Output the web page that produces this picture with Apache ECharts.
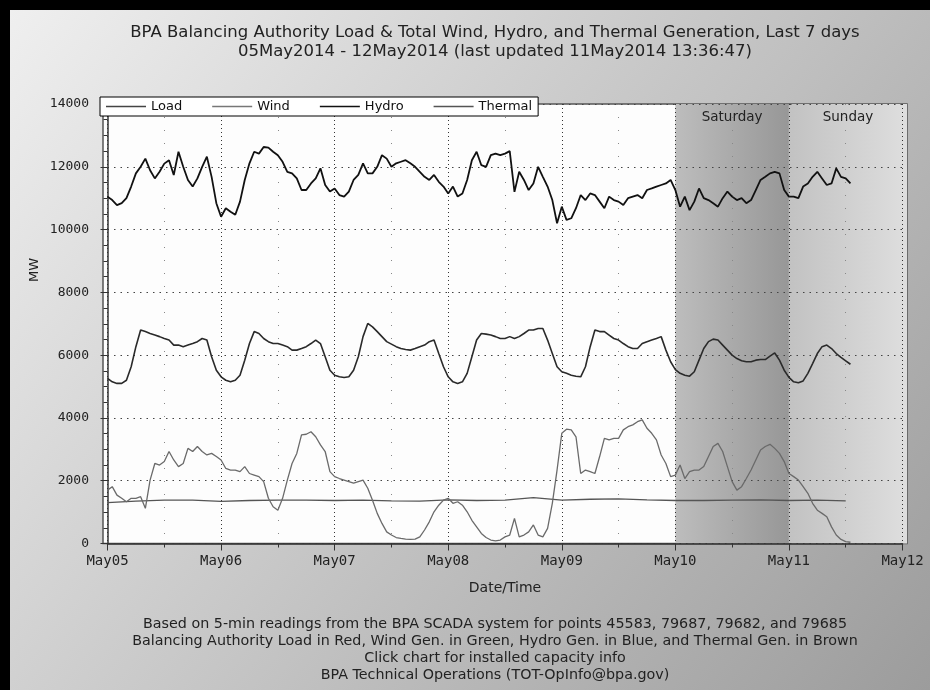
<!DOCTYPE html>
<html>
<head>
<meta charset="utf-8">
<title>BPA Balancing Authority Load & Total Wind, Hydro, and Thermal Generation</title>
<script src="https://cdn.jsdelivr.net/npm/echarts@6/dist/echarts.min.js"></script>
<style>
  html, body { margin: 0; padding: 0; }
  #wrap {
    position: relative;
    width: 930px;
    height: 690px;
    background: linear-gradient(128deg, #f0f0f0 0%, #9c9c9c 100%);
    overflow: hidden;
  }
  #chart { position: absolute; left: 0; top: 0; width: 930px; height: 690px; }
  .edge-top { position: absolute; left: 0; top: 0; width: 930px; height: 10px; background: #000; }
  .edge-left { position: absolute; left: 0; top: 0; width: 10px; height: 690px; background: #000; }
</style>
</head>
<body>
<div id="wrap">
  <div id="chart"></div>
  <div class="edge-top"></div>
  <div class="edge-left"></div>
</div>
<script>
// x axis: hours since 05May2014 00:00, one reading per hour
const dayLabels = ['May05', 'May06', 'May07', 'May08', 'May09', 'May10', 'May11', 'May12']
const seriesStep = 1
const thermalStep = 6

const loadMW = [
  5260, 5150, 5100, 5100, 5200, 5630, 6270, 6800, 6750, 6690, 6640, 6590, 6530, 6480, 6320, 6320, 6270, 6320, 6370, 6430, 6530, 6480, 5950, 5520,
  5310, 5200, 5150, 5200, 5360, 5840, 6370, 6750, 6690, 6530, 6430, 6370, 6370, 6320, 6270, 6160, 6160, 6210, 6270, 6370, 6480, 6370, 5950, 5520,
  5360, 5310, 5290, 5310, 5520, 5950, 6590, 7010, 6900, 6750, 6590, 6430, 6350, 6270, 6210, 6180, 6160, 6210, 6270, 6320, 6430, 6480, 6050, 5630,
  5310, 5150, 5100, 5150, 5420, 5950, 6480, 6690, 6670, 6640, 6590, 6530, 6530, 6590, 6530, 6590, 6690, 6800, 6800, 6850, 6850, 6480, 6050, 5630,
  5470, 5420, 5360, 5330, 5310, 5630, 6270, 6800, 6750, 6750, 6640, 6530, 6480, 6370, 6270, 6210, 6210, 6370, 6430, 6480, 6530, 6590, 6160, 5790,
  5540, 5420, 5360, 5330, 5470, 5840, 6210, 6430, 6510, 6480, 6320, 6160, 6000, 5890, 5820, 5790, 5790, 5840, 5860, 5860, 5970, 6070, 5840, 5520,
  5290, 5150, 5120, 5180, 5420, 5730, 6050, 6270, 6320, 6210, 6050, 5930, 5820, 5710
]

const windMW = [
  1700, 1810, 1540, 1440, 1330, 1440, 1440, 1490, 1120, 2020, 2550, 2500, 2610, 2930, 2660, 2450, 2550, 3030, 2930, 3090, 2930, 2820, 2870, 2770,
  2660, 2390, 2340, 2340, 2290, 2450, 2230, 2180, 2130, 1970, 1440, 1170, 1060, 1440, 2020, 2550, 2870, 3460, 3480, 3560, 3400, 3140, 2930, 2290,
  2130, 2070, 2020, 1970, 1920, 1970, 2020, 1760, 1380, 960, 640, 370, 270, 190, 160, 140, 130, 140, 210, 430, 690, 1010, 1220, 1380,
  1440, 1280, 1330, 1220, 1010, 740, 530, 320, 190, 110, 85, 110, 210, 270, 800, 210, 270, 370, 590, 270, 210, 480, 1280, 2340,
  3510, 3640, 3620, 3400, 2230, 2340, 2290, 2230, 2770, 3350, 3300, 3350, 3350, 3620, 3720, 3780, 3880, 3940, 3670, 3510, 3300, 2820, 2550, 2130,
  2180, 2500, 2070, 2290, 2340, 2340, 2450, 2770, 3090, 3190, 2930, 2450, 1970, 1700, 1810, 2070, 2340, 2660, 2980, 3090, 3160, 3030, 2870, 2610,
  2230, 2130, 2020, 1810, 1600, 1280, 1060, 960, 850, 530, 270, 130, 60, 40
]

const hydroMW = [
  11050, 10940, 10780, 10840, 11000, 11370, 11790, 12000, 12260, 11890, 11630, 11840, 12100, 12210, 11740, 12480, 12000, 11580, 11370, 11630, 12000, 12320, 11680, 10840,
  10410, 10680, 10570, 10470, 10890, 11580, 12110, 12480, 12420, 12630, 12610, 12480, 12370, 12160, 11840, 11790, 11630, 11260, 11260, 11470, 11630, 11950, 11420, 11210,
  11310, 11100, 11050, 11210, 11580, 11740, 12110, 11790, 11790, 12000, 12370, 12260, 12000, 12110, 12160, 12210, 12110, 12000, 11840, 11680, 11580, 11740, 11520, 11370,
  11150, 11370, 11050, 11150, 11580, 12210, 12480, 12050, 12000, 12370, 12420, 12370, 12420, 12500, 11200, 11840, 11580, 11260, 11470, 12000, 11680, 11370, 10940, 10200,
  10730, 10310, 10360, 10680, 11100, 10940, 11150, 11100, 10890, 10680, 11050, 10940, 10890, 10780, 11000, 11050, 11100, 11000, 11260, 11310, 11370, 11420, 11470, 11580,
  11260, 10730, 11050, 10620, 10890, 11310, 11000, 10940, 10840, 10730, 11000, 11210, 11050, 10940, 11000, 10840, 10940, 11260, 11580, 11680, 11790, 11840, 11790, 11260,
  11050, 11050, 11000, 11370, 11470, 11680, 11840, 11630, 11420, 11470, 11950, 11680, 11630, 11470
]

// thermal every 6 hours
const thermalMW = [
  1300, 1350, 1380, 1380, 1340, 1370, 1380, 1380, 1370, 1380, 1360, 1350, 1390, 1370,
  1380, 1460, 1380, 1410, 1420, 1390, 1370, 1370, 1380, 1390, 1370, 1380, 1360
]

// weekend shading, start hour of each day
const weekendNames = ['Saturday', 'Sunday']
const weekendStart = [120, 144]
const axisEnd = 168

const FONT = 'DejaVu Sans'
const MONO = 'DejaVu Sans Mono'

// 4.5px padding either side of the day range inside the plot frame
const padHours = 0.951

const toPairs = (arr, step) => arr.map((v, i) => [i * step, v])

const chart = echarts.init(document.getElementById('chart'), null, { renderer: 'canvas' })

chart.setOption({
  animation: false,
  backgroundColor: 'transparent',
  title: [
    {
      text: 'BPA Balancing Authority Load & Total Wind, Hydro, and Thermal Generation, Last 7 days\n05May2014 - 12May2014 (last updated 11May2014 13:36:47)',
      left: 490,
      top: 18,
      textAlign: 'center',
      textStyle: { fontFamily: FONT, fontSize: 16.5, fontWeight: 'normal', color: '#222', lineHeight: 19 }
    },
    {
      text: [
        'Based on 5-min readings from the BPA SCADA system for points 45583, 79687, 79682, and 79685',
        'Balancing Authority Load in Red, Wind Gen. in Green, Hydro Gen. in Blue, and Thermal Gen. in Brown',
        'Click chart for installed capacity info',
        'BPA Technical Operations (TOT-OpInfo@bpa.gov)'
      ].join('\n'),
      left: 490,
      top: 611,
      textAlign: 'center',
      textStyle: { fontFamily: FONT, fontSize: 14.3, fontWeight: 'normal', color: '#222', lineHeight: 17 }
    }
  ],
  legend: {
    left: 100,
    top: 97,
    padding: [3, 6],
    icon: 'rect',
    itemWidth: 40,
    itemHeight: 1.6,
    itemGap: 30,
    borderColor: '#000',
    borderWidth: 1,
    backgroundColor: '#fff',
    textStyle: { fontFamily: FONT, fontSize: 13, color: '#111' },
    data: ['Load', 'Wind', 'Hydro', 'Thermal']
  },
  graphic: [
    {
      type: 'text',
      x: 35,
      y: 270,
      rotation: Math.PI / 2,
      style: {
        text: 'MW',
        font: '13px ' + FONT,
        fill: '#222',
        align: 'center',
        verticalAlign: 'middle',
        textAlign: 'center',
        textVerticalAlign: 'middle'
      }
    }
  ],
  grid: [
    // day range
    { left: 107.5, right: 27.5, top: 104, bottom: 146.5 },
    // plot frame
    {
      left: 103, right: 23, top: 104, bottom: 146.5,
      show: true, backgroundColor: '#fdfdfd', borderColor: '#555', borderWidth: 1.5
    }
  ],
  xAxis: [
    {
      type: 'value',
      gridIndex: 0,
      min: 0,
      max: axisEnd,
      interval: 24,
      z: 3,
      name: 'Date/Time',
      nameLocation: 'middle',
      nameGap: 38,
      nameTextStyle: { fontFamily: FONT, fontSize: 14, color: '#222' },
      axisLine: { show: true, lineStyle: { color: '#333', width: 1.5 } },
      axisTick: { show: true, length: 7, lineStyle: { color: '#333' } },
      minorTick: { show: true, splitNumber: 2, length: 4, lineStyle: { color: '#333' } },
      axisLabel: {
        margin: 11,
        fontFamily: MONO,
        fontSize: 14,
        color: '#222',
        formatter: v => dayLabels[Math.round(v / 24)]
      },
      splitLine: { show: true, lineStyle: { color: '#333', type: [1, 3] } },
      minorSplitLine: { show: true, lineStyle: { color: '#888', type: [1, 12] } }
    },
    {
      type: 'value',
      gridIndex: 1,
      min: -padHours,
      max: axisEnd + padHours,
      show: false
    }
  ],
  yAxis: [
    {
      type: 'value',
      gridIndex: 0,
      min: 0,
      max: 14000,
      interval: 2000,
      offset: 4.5,
      z: 3,
      axisLine: { show: true, lineStyle: { color: '#333', width: 1.5 } },
      axisTick: { show: true, length: 7, lineStyle: { color: '#333' } },
      minorTick: { show: true, splitNumber: 4, length: 4, lineStyle: { color: '#333' } },
      axisLabel: { margin: 14, fontFamily: MONO, fontSize: 13, color: '#222', formatter: v => String(v) },
      splitLine: { show: true, lineStyle: { color: '#444', type: [1.5, 5] } }
    },
    {
      type: 'value',
      gridIndex: 1,
      min: 0,
      max: 14000,
      show: false
    }
  ],
  series: [
    {
      name: 'weekend',
      type: 'line',
      xAxisIndex: 1,
      yAxisIndex: 1,
      data: [],
      z: 1,
      silent: true,
      markArea: {
        silent: true,
        label: {
          show: true,
          position: 'insideTop',
          distance: 6,
          fontFamily: FONT,
          fontSize: 13.5,
          color: '#222'
        },
        data: [
          [
            {
              name: weekendNames[0],
              xAxis: weekendStart[0],
              itemStyle: {
                color: new echarts.graphic.LinearGradient(0, 0, 1, 0, [
                  { offset: 0, color: '#bdbdbd' },
                  { offset: 1, color: '#979797' }
                ])
              }
            },
            { xAxis: weekendStart[1] }
          ],
          [
            {
              name: weekendNames[1],
              xAxis: weekendStart[1],
              itemStyle: {
                color: new echarts.graphic.LinearGradient(0, 0, 1, 0, [
                  { offset: 0, color: '#c2c2c2' },
                  { offset: 1, color: '#dedede' }
                ])
              }
            },
            { xAxis: axisEnd + padHours }
          ]
        ]
      }
    },
    {
      name: 'Thermal',
      type: 'line',
      data: toPairs(thermalMW, thermalStep),
      symbol: 'none',
      z: 4,
      lineStyle: { color: '#555', width: 1.3 },
      itemStyle: { color: '#555' }
    },
    {
      name: 'Wind',
      type: 'line',
      data: toPairs(windMW, seriesStep),
      symbol: 'none',
      z: 4,
      lineStyle: { color: '#6a6a6a', width: 1.3 },
      itemStyle: { color: '#777' }
    },
    {
      name: 'Load',
      type: 'line',
      data: toPairs(loadMW, seriesStep),
      symbol: 'none',
      z: 4,
      lineStyle: { color: '#2a2a2a', width: 1.6 },
      itemStyle: { color: '#444' }
    },
    {
      name: 'Hydro',
      type: 'line',
      data: toPairs(hydroMW, seriesStep),
      symbol: 'none',
      z: 4,
      lineStyle: { color: '#111', width: 1.8 },
      itemStyle: { color: '#111' }
    }
  ]
})
</script>
</body>
</html>
